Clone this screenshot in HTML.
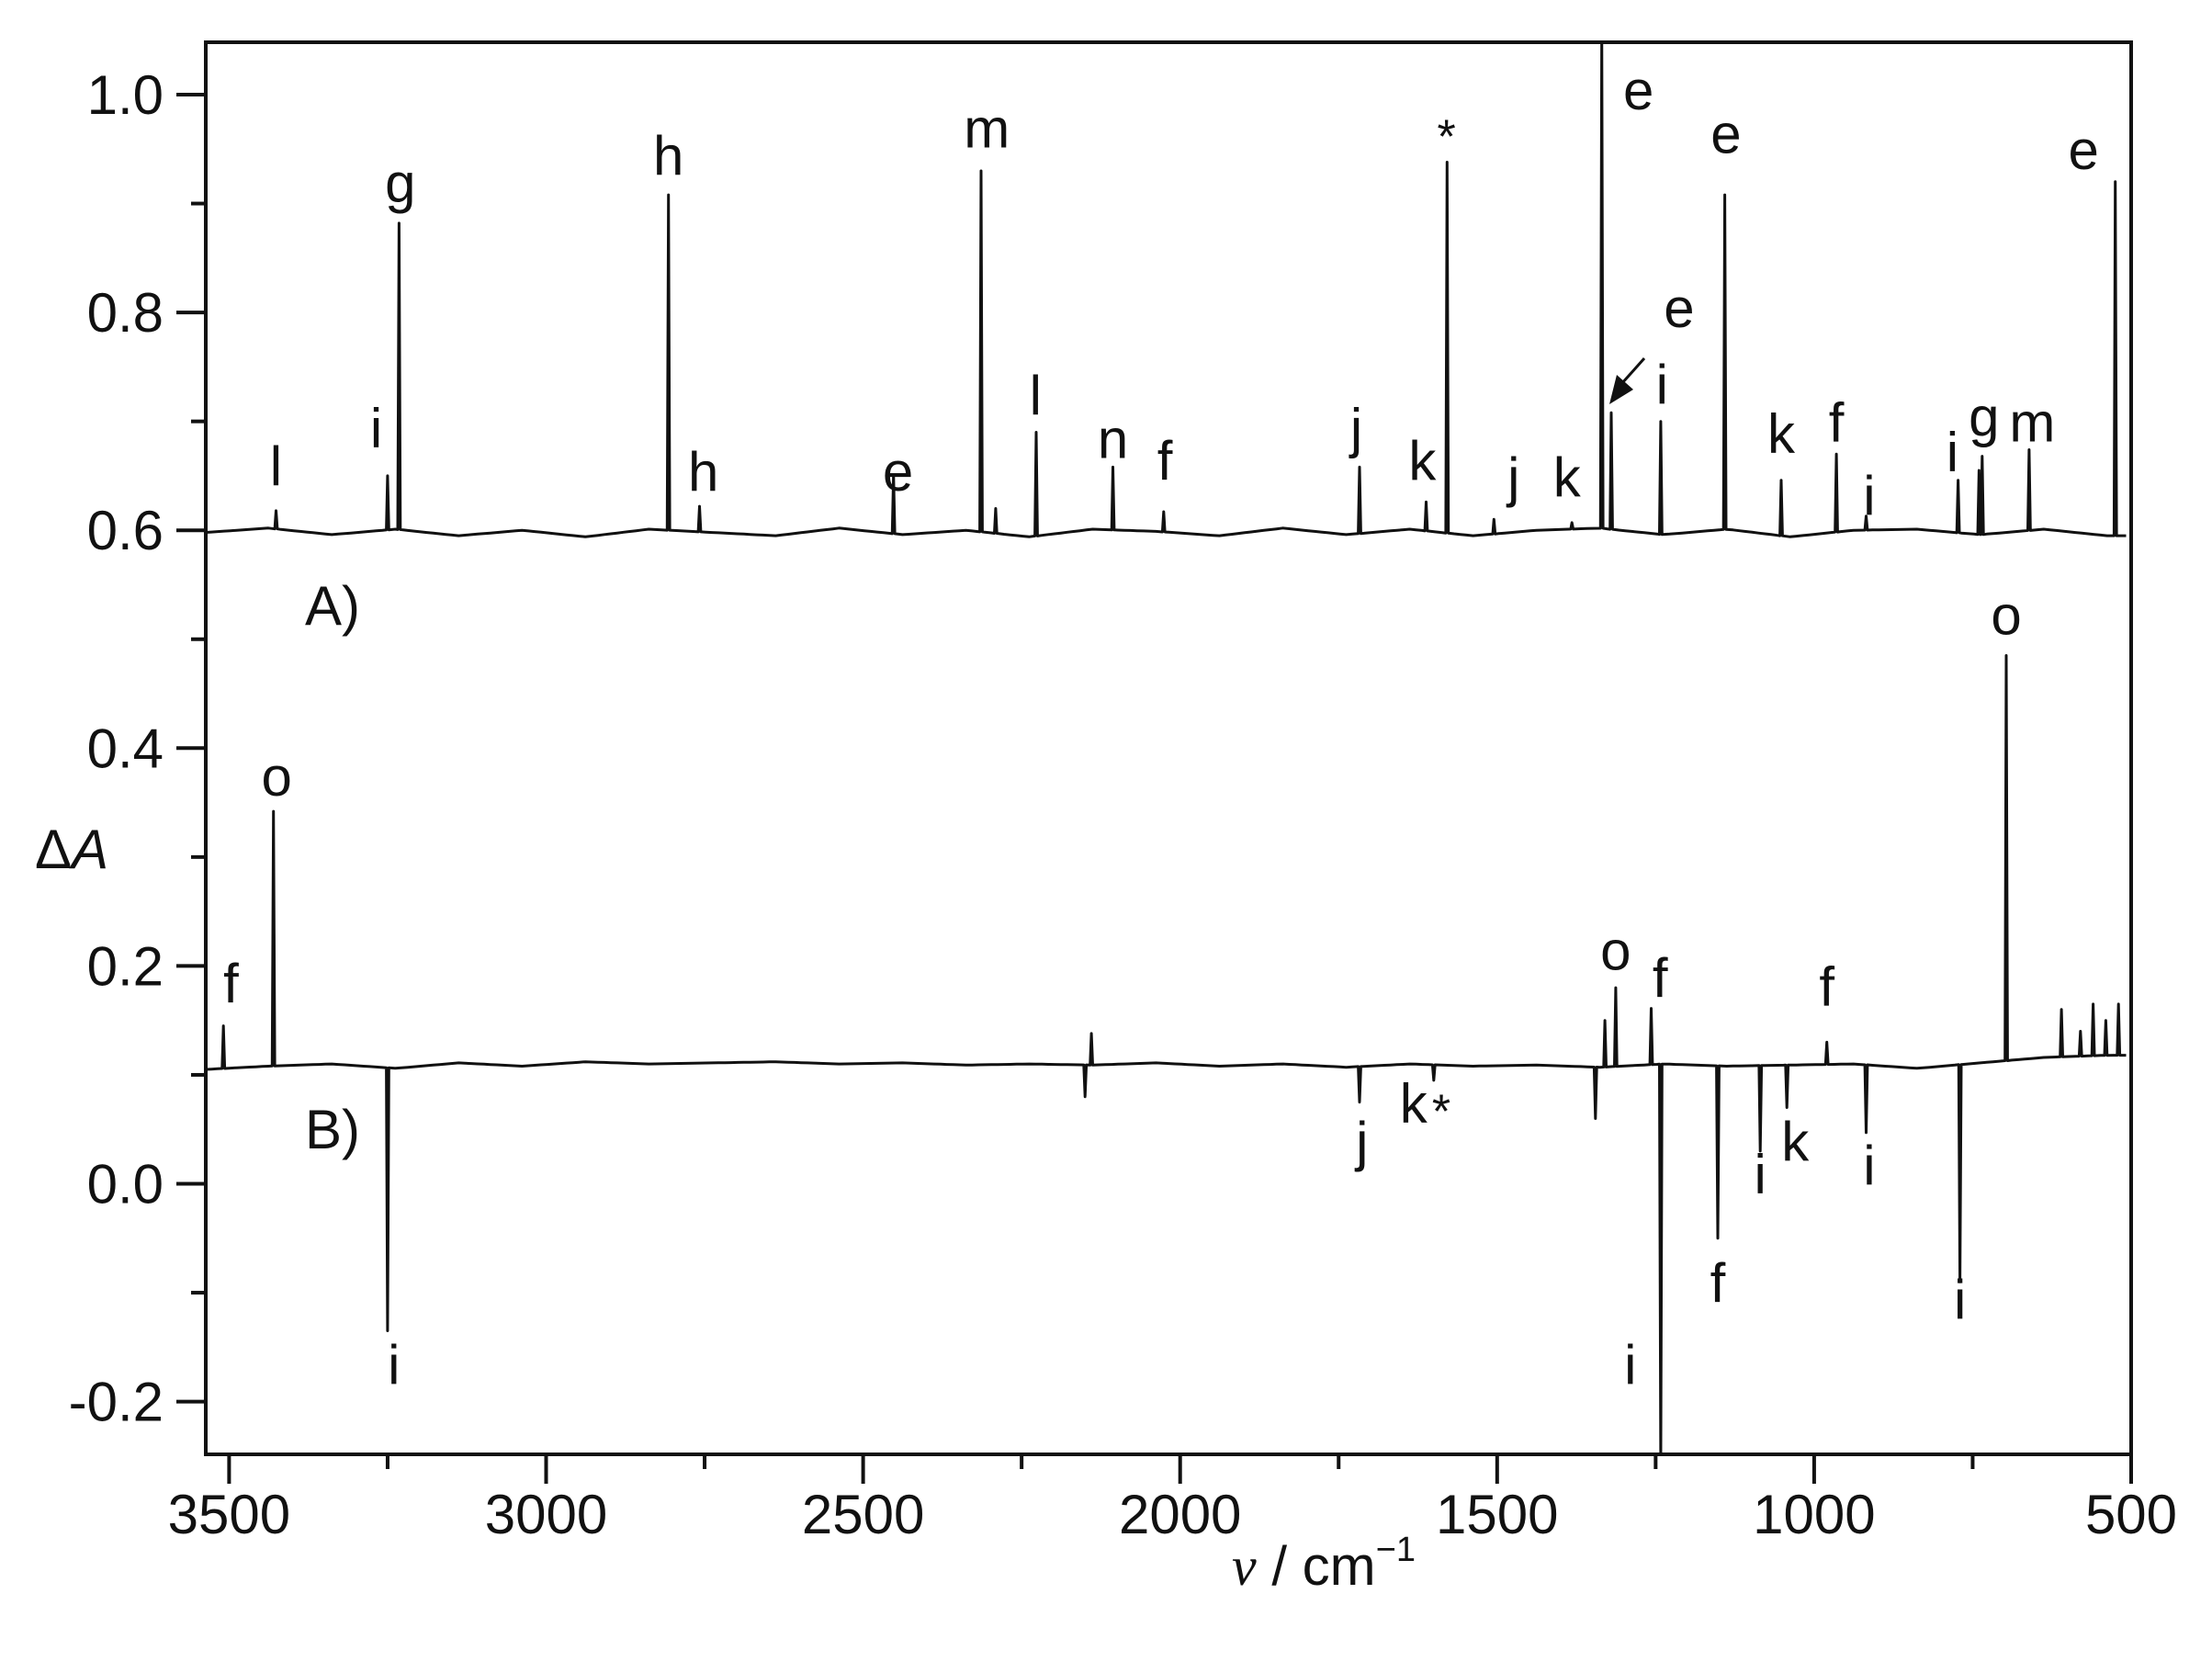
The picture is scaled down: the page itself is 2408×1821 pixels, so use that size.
<!DOCTYPE html>
<html><head><meta charset="utf-8">
<style>
html,body{margin:0;padding:0;background:#fff;}
svg text{font-family:"Liberation Sans",sans-serif;fill:#111;}
</style></head>
<body>
<svg id="chart" width="2408" height="1816" viewBox="0 0 2408 1816" xmlns="http://www.w3.org/2000/svg">
<g id="plot"></g>
</svg>
<script>
// ---- data ----
const peaksA_wn  = [3426,3250,3232,2807,2758,2452,2314,2291,2227,2106,2026,1717,1612,1579,1505,1382,1335,1320,1242,1141,1052,965,918,773,740,735,661,525];
const peaksA_val = [0.618,0.65,0.882,0.908,0.622,0.651,0.93,0.62,0.69,0.658,0.617,0.658,0.626,0.938,0.61,0.607,1.06,0.708,0.70,0.908,0.646,0.67,0.613,0.646,0.655,0.668,0.674,0.92];
const baseA = 0.598;
const rippleA = [0,0.004,-0.002,0.003,-0.003,0.002,-0.004,0.003,0,-0.003,0.004,-0.002,0.002,-0.004,0.003,0.001,-0.003,0.004,-0.002,0.003,-0.003,0.002,0.004,-0.002,0.003,-0.004,0.002,0.003,-0.002,0.003,-0.003];
const peaksB_wn  = [3509,3430,3250,2150,2140,1717,1600,1345,1330,1313,1257,1242,1152,1085,1043,980,918,770,697,610,580,560,540,520];
const peaksB_val = [0.145,0.342,-0.135,0.08,0.138,0.075,0.095,0.06,0.15,0.18,0.161,-0.26,-0.05,0.03,0.07,0.13,0.047,-0.09,0.485,0.16,0.14,0.165,0.15,0.165];
const baseB = 0.108;
const rippleB = [-0.003,0,0.002,-0.002,0.003,0,0.004,0.002,0.003,0.004,0.002,0.003,0.001,0.002,0.001,0.003,0,0.002,-0.001,0.002,0,0.001,-0.001,0.002,0,0.001,0.002,-0.002,0.003,0.008,0.01];
const labelsA = [["l",3426,0.655],["i",3268,0.69],["g",3230,0.915],["h",2807,0.94],["h",2752,0.65],["e",2445,0.65],["m",2305,0.965],["l",2228,0.72],["n",2106,0.68],["f",2024,0.66],["j",1722,0.69],["k",1618,0.66],["*",1580,0.96],["j",1474,0.645],["k",1390,0.645],["e",1277,1.0],["e",1213,0.8],["i",1240,0.73],["e",1139,0.96],["k",1052,0.685],["f",965,0.695],["i",913,0.628],["i",782,0.668],["g",732,0.7],["m",656,0.695],["e",575,0.945]];
const labelsB = [["f",3497,0.18],["o",3425,0.37],["i",3240,-0.17],["o",1313,0.21],["f",1243,0.185],["j",1713,0.035],["k",1632,0.07],["*",1588,0.065],["i",1290,-0.17],["f",1152,-0.095],["i",1085,0.005],["k",1030,0.035],["f",980,0.177],["i",913,0.013],["i",770,-0.11],["o",697,0.518]];
const xTicks = [3500,3000,2500,2000,1500,1000,500];
const yTicks = [1.0,0.8,0.6,0.4,0.2,0.0,-0.2];

// ---- axes ----
const L=224,R=2320,T=46,B=1583;
const x = v => R - (v-500)*0.6902;
const y = v => 103 + (1-v)*1185.5;
const NS="http://www.w3.org/2000/svg";
const svg=document.getElementById('chart');
function mk(tag,attrs,parent){const e=document.createElementNS(NS,tag);for(const k in attrs)e.setAttribute(k,attrs[k]);(parent||svg).appendChild(e);return e;}
const clip=mk('clipPath',{id:'clp'});mk('rect',{x:L,y:T,width:R-L,height:B-T},clip);

function series(wn,val,base,rip){
  const bl=v=>{const f=Math.max(0,Math.min(rip.length-1.001,(3538-v)/100));const i=Math.floor(f),t=f-i;return base+rip[i]*(1-t)+rip[i+1]*t;};
  let pts=[];
  for(let v=3538;v>=500;v-=10){
    let near=wn.some(w=>Math.abs(w-v)<5);
    if(!near) pts.push([v,bl(v)]);
  }
  wn.forEach((w,i)=>{pts.push([w+2,bl(w)]);pts.push([w,val[i]]);pts.push([w-2,bl(w)]);});
  pts.sort((a,b)=>b[0]-a[0]);
  return pts.map((p,i)=>(i?'L':'M')+x(p[0]).toFixed(1)+','+y(p[1]).toFixed(1)).join(' ');
}
const gA=mk('g',{'clip-path':'url(#clp)'});
const pA=mk('path',{d:series(peaksA_wn,peaksA_val,baseA,rippleA),fill:'none',stroke:'#111','stroke-width':3,'stroke-linejoin':'round'},gA);


const pB=mk('path',{d:series(peaksB_wn,peaksB_val,baseB,rippleB),fill:'none',stroke:'#111','stroke-width':3,'stroke-linejoin':'round'},gA);



const frame=mk('rect',{x:L,y:T,width:R-L,height:B-T,fill:'none',stroke:'#111','stroke-width':4});



yTicks.forEach(t=>{
  mk('line',{x1:L-32,x2:L,y1:y(t),y2:y(t),stroke:'#111','stroke-width':4});
  const tx=mk('text',{x:L-46,y:y(t)+21,'font-size':60,'text-anchor':'end'});
  tx.textContent=t.toFixed(1);
  
  
});
for(let t=-0.1;t<1.05;t+=0.2){mk('line',{x1:L-16,x2:L,y1:y(t),y2:y(t),stroke:'#111','stroke-width':4});}
xTicks.forEach(t=>{
  mk('line',{x1:x(t),x2:x(t),y1:B,y2:B+32,stroke:'#111','stroke-width':4});
  const tx=mk('text',{x:x(t),y:B+86,'font-size':60,'text-anchor':'middle'});
  tx.textContent=t;
  
  
});
for(let t=750;t<3500;t+=500){mk('line',{x1:x(t),x2:x(t),y1:B,y2:B+16,stroke:'#111','stroke-width':4});}

function lab(arr,name){arr.forEach(l=>{
  const t=mk('text',{x:x(l[1]),y:y(l[2])+16,'font-size':l[0]=='*'?52:60,'text-anchor':'middle'});
  t.textContent=l[0];
  
  
});}
lab(labelsA,'peak-label-a');lab(labelsB,'peak-label-b');

const ta=mk('text',{x:332,y:680,'font-size':60});ta.textContent='A)';


const tb=mk('text',{x:332,y:1250,'font-size':60});tb.textContent='B)';



const ar=mk('line',{x1:1790,y1:390,x2:1765,y2:418,stroke:'#111','stroke-width':3});


mk('polygon',{points:'1752,440 1760,408 1778,424',fill:'#111'});

const yt=mk('text',{x:38,y:945,'font-size':60});
yt.innerHTML='Δ<tspan font-style="italic">A</tspan>';


const xt=mk('text',{x:1441,y:1725,'font-size':60,'text-anchor':'middle'});
xt.innerHTML='<tspan font-style="italic" font-family="Liberation Serif">ν</tspan> / cm<tspan font-size="38" dy="-26">−1</tspan>';


</script>
</body></html>
